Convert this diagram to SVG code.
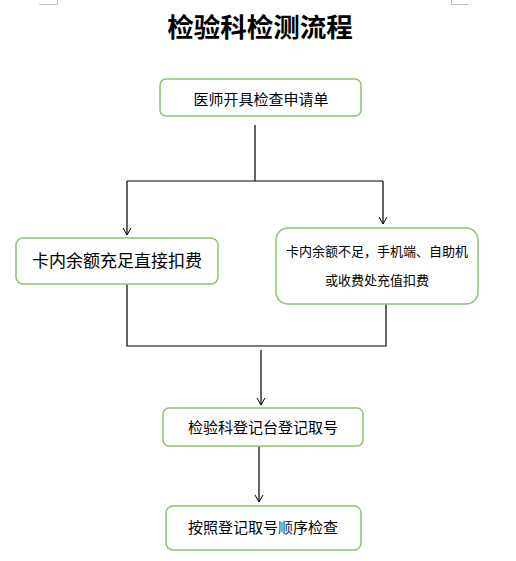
<svg xmlns="http://www.w3.org/2000/svg" width="516" height="561" viewBox="0 0 516 561">
<defs>
<marker id="arr" markerWidth="10" markerHeight="10" refX="8" refY="5" orient="auto" markerUnits="userSpaceOnUse">
<path d="M1,1 L8,5 L1,9" fill="none" stroke="#000" stroke-width="1"/>
</marker>
<style>
.box{fill:#fff;stroke:#8dc26f;stroke-width:1.5}
.t{font-family:"Noto Sans CJK SC","Noto Sans",sans-serif;fill:#000;text-anchor:middle}
.ln{fill:none;stroke:#000;stroke-width:1.2}
.mk{fill:none;stroke:#bfbfbf;stroke-width:1}
</style>
</defs>
<rect width="516" height="561" fill="#fff"/>
<path class="mk" d="M39,4.5 H57.5 V0 M468,4.5 H451.5 V0"/>
<text class="t" x="260" y="37" font-size="26.5" font-weight="bold">检验科检测流程</text>
<g id="connectors">
<path class="ln" d="M255,125 V181 M127,181 H383"/>
<path class="ln" d="M127,181 V235" marker-end="url(#arr)"/>
<path class="ln" d="M383,181 V224" marker-end="url(#arr)"/>
<path class="ln" d="M127,284 V346 H386 V304"/>
<path class="ln" d="M261,350 V405" marker-end="url(#arr)"/>
<path class="ln" d="M259,446 V502" marker-end="url(#arr)"/>
</g>
<g id="n1">
<rect class="box" x="160" y="79" width="201" height="37" rx="6"/>
<text class="t" x="261" y="105" font-size="15">医师开具检查申请单</text>
</g>
<g id="n2">
<rect class="box" x="16" y="238" width="202" height="46" rx="7"/>
<text class="t" x="117" y="267" font-size="17">卡内余额充足直接扣费</text>
</g>
<g id="n3">
<rect class="box" x="276" y="228" width="202" height="76" rx="12"/>
<text class="t" x="377" y="256" font-size="13">卡内余额不足，手机端、自助机</text>
<text class="t" x="377" y="285" font-size="13">或收费处充值扣费</text>
</g>
<g id="n4">
<rect class="box" x="163" y="408" width="200" height="38" rx="6"/>
<text class="t" x="263" y="433" font-size="15">检验科登记台登记取号</text>
</g>
<g id="n5">
<rect class="box" x="166" y="506" width="195" height="44" rx="7"/>
<text class="t" x="263" y="533" font-size="15">按照登记取号<tspan fill="#1f3864">顺</tspan>序检查</text>
</g>
</svg>
